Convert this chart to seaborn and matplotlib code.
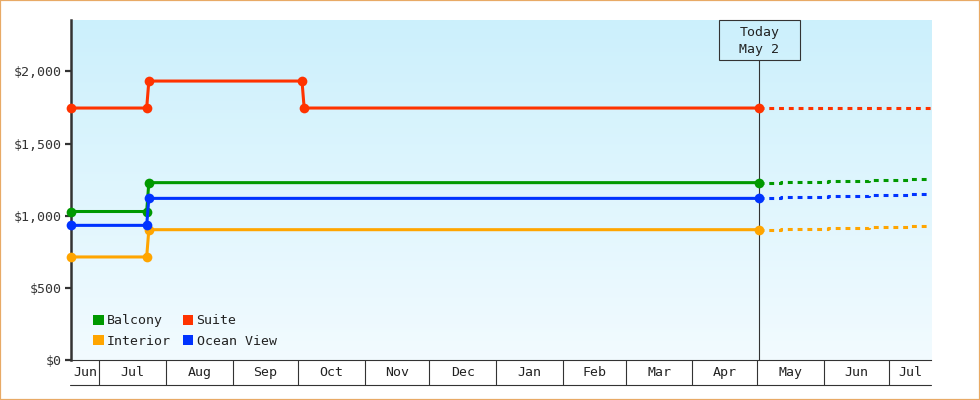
import matplotlib
matplotlib.use("Agg")
import numpy as np
import pandas as pd
import seaborn as sns
import matplotlib.pyplot as plt
import matplotlib.dates as mdates
from matplotlib.patches import Patch, Rectangle
from matplotlib.colors import LinearSegmentedColormap
from matplotlib.transforms import blended_transform_factory
from datetime import datetime

# ---------------- data ----------------
rooms = ["Balcony", "Suite", "Interior", "Ocean View"]
colors = {"Balcony": "#009900", "Suite": "#ff3300",
          "Interior": "#ffa500", "Ocean View": "#0033ff"}

today = "2024-05-02"

suite_dates = ["2023-06-18", "2023-07-23", "2023-07-24", "2023-10-03", "2023-10-04", today]
suite_vals = [1746, 1746, 1933, 1933, 1746, 1746]

balcony_dates = ["2023-06-18", "2023-07-23", "2023-07-24", today]
balcony_vals = [1029, 1029, 1229, 1229]

ocean_dates = ["2023-06-18", "2023-07-23", "2023-07-24", today]
ocean_vals = [933, 933, 1120, 1120]

interior_dates = ["2023-06-18", "2023-07-23", "2023-07-24", today]
interior_vals = [714, 714, 903, 903]

# forecast (dotted, stepped)
fc_dates = [today, "2024-05-12", "2024-06-03", "2024-06-22", "2024-07-11", "2024-07-21"]
fc_suite = [1746, 1746, 1746, 1746, 1746, 1746]
fc_balcony = [1229, 1236, 1243, 1247, 1254, 1254]
fc_ocean = [1120, 1130, 1139, 1146, 1150, 1150]
fc_interior = [903, 908, 915, 922, 929, 929]

month_labels = ["Jun", "Jul", "Aug", "Sep", "Oct", "Nov", "Dec",
                "Jan", "Feb", "Mar", "Apr", "May", "Jun", "Jul"]
y_ticks = [0, 500, 1000, 1500, 2000]

x_start = datetime(2023, 6, 17, 22)
x_end = datetime(2024, 7, 20, 14)
y_max = 2356

# ---------------- frames ----------------
def frame(series):
    parts = []
    for name, d, v in series:
        parts.append(pd.DataFrame({"date": pd.to_datetime(d), "price": v, "room": name}))
    return pd.concat(parts, ignore_index=True)

main_df = frame([("Suite", suite_dates, suite_vals),
                 ("Balcony", balcony_dates, balcony_vals),
                 ("Ocean View", ocean_dates, ocean_vals),
                 ("Interior", interior_dates, interior_vals)])
fc_df = frame([("Suite", fc_dates, fc_suite),
               ("Balcony", fc_dates, fc_balcony),
               ("Ocean View", fc_dates, fc_ocean),
               ("Interior", fc_dates, fc_interior)])

# ---------------- figure ----------------
sns.set_style("white")
plt.rcParams["font.family"] = ["DejaVu Sans Mono", "DejaVu Sans"]
FS = 9.5
INK = "#333333"

fig = plt.figure(figsize=(9.8, 4), dpi=100)
fig.patch.set_facecolor("white")
ax = fig.add_axes([71 / 980, 40 / 400, 860 / 980, 340 / 400])

# gradient background
grad = np.linspace(0, 1, 256).reshape(-1, 1)
cmap = LinearSegmentedColormap.from_list("bg", ["#f2fbff", "#ccf0fc"])
ax.imshow(grad, extent=[0, 1, 0, 1], transform=ax.transAxes, origin="lower",
          cmap=cmap, aspect="auto", zorder=0)

sns.lineplot(data=fc_df, x="date", y="price", hue="room", hue_order=rooms,
             palette=colors, estimator=None, sort=False, legend=False,
             linewidth=2.2, linestyle=(0, (1.6, 1.6)), drawstyle="steps-post",
             ax=ax, zorder=3)
sns.lineplot(data=main_df, x="date", y="price", hue="room", hue_order=rooms,
             palette=colors, estimator=None, sort=False, legend=False,
             linewidth=2.2, marker="o", markersize=7, markeredgewidth=0,
             ax=ax, zorder=4, clip_on=False)

ax.set_xlim(x_start, x_end)
ax.set_ylim(0, y_max)
ax.set_xlabel("")
ax.set_ylabel("")

# x axis: month boxes
bounds = pd.date_range("2023-07-01", "2024-07-01", freq="MS")
ax.set_xticks(bounds)
ax.tick_params(axis="x", which="major", bottom=True, length=18, width=0.8,
               color=INK, direction="out", labelbottom=False)
edges = [x_start] + list(bounds.to_pydatetime()) + [x_end]
mids = [a + (b - a) / 2 for a, b in zip(edges[:-1], edges[1:])]
ax.set_xticks(mids, minor=True)
ax.set_xticklabels(month_labels, minor=True)
ax.tick_params(axis="x", which="minor", bottom=True, length=0, pad=4.5,
               labelsize=FS, labelcolor="#222222", labelbottom=True)
ax.plot([-0.001, 1], [-25 / 340, -25 / 340], transform=ax.transAxes,
        clip_on=False, color=INK, lw=0.8)

# y axis
ax.set_yticks(y_ticks)
ax.set_yticklabels([f"${v:,}" for v in y_ticks])
ax.tick_params(axis="y", which="major", left=True, length=4.5, width=1.6,
               color=INK, pad=2, labelsize=FS, labelcolor=INK, direction="out")

for s in ["top", "right"]:
    ax.spines[s].set_visible(False)
ax.spines["left"].set_linewidth(1.8)
ax.spines["left"].set_color(INK)
ax.spines["bottom"].set_linewidth(0.8)
ax.spines["bottom"].set_color(INK)
ax.grid(False)

# today marker
t = pd.Timestamp(today).to_pydatetime()
box_h = 40 / 340
ax.axvline(t, ymin=0, ymax=1 - box_h, color=INK, lw=0.8, zorder=2)
trans = blended_transform_factory(ax.transData, ax.transAxes)
tn = mdates.date2num(t)
ax.add_patch(Rectangle((tn - 18.65, 1 - box_h), 37.3, box_h, transform=trans,
                       fill=False, ec=INK, lw=0.8, clip_on=False, zorder=5))
ax.text(tn, 1 - 21 / 340, "Today\nMay 2", transform=trans, ha="center",
        va="center", linespacing=1.35, fontsize=FS, color="#222222", zorder=5)

# legend
order = ["Balcony", "Interior", "Suite", "Ocean View"]
handles = [Patch(facecolor=colors[r], edgecolor="none") for r in order]
ax.legend(handles, order, ncol=2, loc="lower left",
          bbox_to_anchor=(22 / 860, 12 / 340), frameon=False,
          handlelength=0.8, handleheight=0.8, handletextpad=0.25,
          columnspacing=0.9, labelspacing=0.58, borderpad=0,
          borderaxespad=0, fontsize=FS, labelcolor="#222222")

# outer border
fig.patches.append(Rectangle((0, 0), 1, 1, transform=fig.transFigure,
                             fill=False, ec="#e8aa66", lw=1.6))

fig.savefig("out.png", dpi=100)
